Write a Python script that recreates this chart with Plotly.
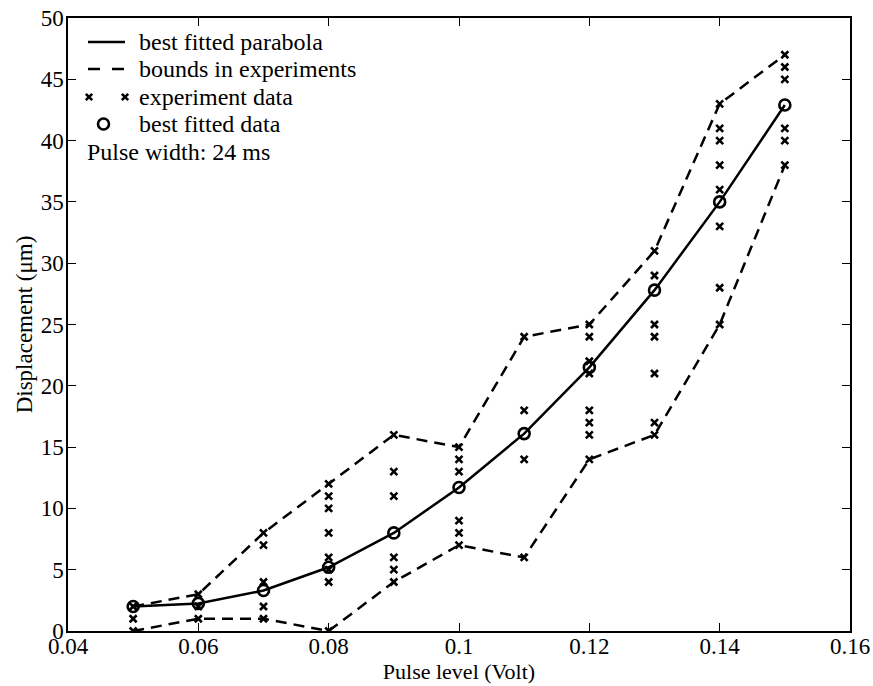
import plotly.graph_objects as go

# ---------------- data ----------------
pulse_levels = [0.05, 0.06, 0.07, 0.08, 0.09, 0.10, 0.11, 0.12, 0.13, 0.14, 0.15]
fitted_disp = [2.0, 2.25, 3.3, 5.2, 8.0, 11.7, 16.1, 21.5, 27.8, 35.0, 42.9]
upper_bound = [2, 3, 8, 12, 16, 15, 24, 25, 31, 43, 47]
lower_bound = [0, 1, 1, 0, 4, 7, 6, 14, 16, 25, 38]
experiment_data = [
    [0, 1, 2],
    [1, 2, 3],
    [1, 2, 4, 7, 8],
    [0, 4, 5, 6, 8, 10, 11, 12],
    [4, 5, 6, 11, 13, 16],
    [7, 8, 9, 13, 14, 15],
    [6, 14, 18, 24],
    [14, 16, 17, 18, 21, 22, 24, 25],
    [16, 17, 21, 24, 25, 29, 31],
    [25, 28, 33, 36, 38, 40, 41, 43],
    [38, 40, 41, 45, 46, 47],
]
x_tick_vals = [0.04, 0.06, 0.08, 0.10, 0.12, 0.14, 0.16]
x_tick_text = ["0.04", "0.06", "0.08", "0.1", "0.12", "0.14", "0.16"]
y_tick_vals = [0, 5, 10, 15, 20, 25, 30, 35, 40, 45, 50]

legend_labels = ["best fitted parabola", "bounds in experiments",
                 "experiment data", "best fitted data"]
note_text = "Pulse width: 24 ms"

# ---------------- styling ----------------
W, H = 873, 686
ML, MR, MT, MB = 68, 23, 18, 55
PW, PH = W - ML - MR, H - MT - MB
FONT = "Liberation Serif, Times New Roman, serif"
DASH = "11px,7px"
LW = 2.5

exp_x = [x for x, vals in zip(pulse_levels, experiment_data) for _ in vals]
exp_y = [v for vals in experiment_data for v in vals]

fig = go.Figure()
fig.add_trace(go.Scatter(x=pulse_levels, y=upper_bound, mode="lines",
                         line=dict(color="black", width=LW, dash=DASH),
                         showlegend=False, hoverinfo="skip"))
fig.add_trace(go.Scatter(x=pulse_levels, y=lower_bound, mode="lines",
                         line=dict(color="black", width=LW, dash=DASH),
                         showlegend=False, hoverinfo="skip"))
fig.add_trace(go.Scatter(x=exp_x, y=exp_y, mode="markers",
                         marker=dict(symbol="x-thin", size=7, color="black",
                                     line=dict(color="black", width=2.6)),
                         showlegend=False))
fig.add_trace(go.Scatter(x=pulse_levels, y=fitted_disp, mode="lines",
                         line=dict(color="black", width=LW),
                         showlegend=False))
fig.add_trace(go.Scatter(x=pulse_levels, y=fitted_disp, mode="markers",
                         marker=dict(symbol="circle-open", size=11, color="black",
                                     line=dict(color="black", width=2.6)),
                         showlegend=False))


# ---------------- legend drawn in paper space ----------------
def px(xp):
    return (xp - ML) / PW


def py(yp):
    return (MT + PH - yp) / PH


legend_rows = [42, 69, 97, 124]
sample_x0, sample_x1, text_x = 88, 125, 137
shapes = []
annotations = []
# solid line sample
shapes.append(dict(type="line", xref="paper", yref="paper",
                   x0=px(sample_x0), x1=px(sample_x1),
                   y0=py(legend_rows[0]), y1=py(legend_rows[0]),
                   line=dict(color="black", width=LW)))
# dashed line sample
shapes.append(dict(type="line", xref="paper", yref="paper",
                   x0=px(sample_x0), x1=px(sample_x1),
                   y0=py(legend_rows[1]), y1=py(legend_rows[1]),
                   line=dict(color="black", width=LW, dash="12px,12px")))
# x marker samples
for cx in (sample_x0 + 1, sample_x1):
    for s in (1, -1):
        shapes.append(dict(type="line", xref="paper", yref="paper",
                           xsizemode="pixel", ysizemode="pixel",
                           xanchor=px(cx), yanchor=py(legend_rows[2]),
                           x0=-3.2, x1=3.2, y0=-3.2 * s, y1=3.2 * s,
                           line=dict(color="black", width=2.6)))
# circle sample
shapes.append(dict(type="circle", xref="paper", yref="paper",
                   xsizemode="pixel", ysizemode="pixel",
                   xanchor=px((sample_x0 + sample_x1) / 2 - 3),
                   yanchor=py(legend_rows[3]),
                   x0=-5.5, x1=5.5, y0=-5.5, y1=5.5,
                   line=dict(color="black", width=2.6)))
for row, lab in zip(legend_rows, legend_labels):
    annotations.append(dict(text=lab, xref="paper", yref="paper",
                            x=px(text_x), y=py(row), xanchor="left",
                            yanchor="middle", showarrow=False,
                            font=dict(family=FONT, size=24, color="black")))
annotations.append(dict(text=note_text, xref="paper", yref="paper",
                        x=px(85), y=py(152), xanchor="left", yanchor="middle",
                        showarrow=False,
                        font=dict(family=FONT, size=24, color="black")))

axis_common = dict(showgrid=False, zeroline=False, showline=True,
                   linecolor="black", linewidth=1.5, mirror="ticks",
                   ticks="inside", ticklen=8, tickwidth=1.2, tickcolor="black")

fig.update_layout(
    width=W, height=H,
    margin=dict(l=ML, r=MR, t=MT, b=MB),
    paper_bgcolor="white", plot_bgcolor="white",
    showlegend=False,
    shapes=shapes, annotations=annotations,
    xaxis=dict(range=[0.04, 0.16], tickvals=x_tick_vals, ticktext=x_tick_text,
               tickfont=dict(family=FONT, size=23, color="black"),
               ticklabelstandoff=-6,
               title=dict(text="Pulse level (Volt)", standoff=0,
                          font=dict(family=FONT, size=22, color="black")),
               automargin=False, **axis_common),
    yaxis=dict(range=[0, 50], tickvals=y_tick_vals,
               tickfont=dict(family=FONT, size=23, color="black"),
               ticklabelstandoff=-2,
               title=dict(text="Displacement (\u03bcm)", standoff=2,
                          font=dict(family=FONT, size=23, color="black")),
               automargin=False, **axis_common),
)

fig.write_html("out.html")
